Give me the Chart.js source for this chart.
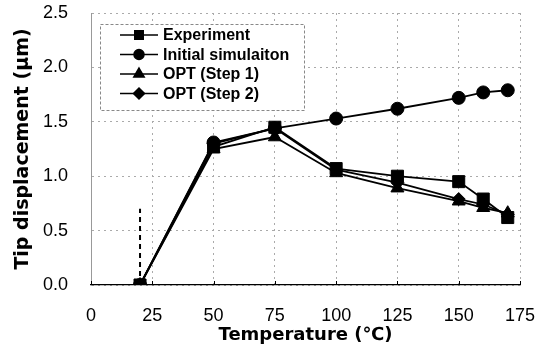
<!DOCTYPE html>
<html>
<head>
<meta charset="utf-8">
<script src="https://cdn.jsdelivr.net/npm/chart.js@4/dist/chart.umd.min.js"></script>
<style>
  html, body { margin: 0; padding: 0; background: #fff; }
  #wrap { width: 545px; height: 350px; }
</style>
</head>
<body>
<div id="wrap"><canvas id="chart" width="545" height="350"></canvas></div>
<script>
// temperatures (°C)
const temps = [20, 50, 75, 100, 125, 150, 160, 170];

// tip displacement (µm) per series
const experiment = [0, 1.27, 1.45, 1.07, 1.00, 0.95, 0.79, 0.62];
const initialSim = [0, 1.31, 1.44, 1.53, 1.62, 1.72, 1.77, 1.79];
const optStep1   = [0, 1.25, 1.36, 1.03, 0.89, 0.77, 0.71, 0.66];
const optStep2   = [0, 1.30, 1.44, 1.06, 0.94, 0.79, 0.74, 0.65];

// dashed marker at room temperature
const refLineX = [20, 20];
const refLineY = [0, 0.7];

const seriesLabels = ['Experiment', 'Initial simulaiton', 'OPT (Step 1)', 'OPT (Step 2)'];

const toXY = (xs, ys) => xs.map((x, i) => ({ x: x, y: ys[i] }));

const markerStyles = [
    { pointStyle: 'rect', radius: 8.5, legendRadius: 6 },
    { pointStyle: 'circle', radius: 6.5, legendRadius: 5 },
    { pointStyle: 'triangle', radius: 7.5, legendRadius: 6 },
    { pointStyle: 'rectRot', radius: 6.5, legendRadius: 5.5 }
];

const seriesData = [experiment, initialSim, optStep1, optStep2];

const datasets = seriesData.map((vals, i) => ({
    label: seriesLabels[i],
    data: toXY(temps, vals),
    borderColor: '#000',
    backgroundColor: '#000',
    borderWidth: 1.8,
    pointStyle: markerStyles[i].pointStyle,
    pointRadius: markerStyles[i].radius,
    pointBorderWidth: 1,
    pointBackgroundColor: '#000',
    pointBorderColor: '#000',
    tension: 0,
    fill: false
}));

datasets.push({
    label: '_ref',
    data: toXY(refLineX, refLineY),
    borderColor: '#000',
    borderWidth: 2,
    borderDash: [5, 4],
    pointRadius: 0,
    fill: false
});

// Legend box drawn on canvas, inside plot area top-left
const boxLegend = {
    id: 'boxLegend',
    afterDatasetsDraw(chart) {
        const { ctx, chartArea } = chart;
        const left = chartArea.left + 9, top = chartArea.top + 11;
        const w = 204, h = 86;
        ctx.save();
        ctx.fillStyle = '#fff';
        ctx.fillRect(left, top, w, h);
        ctx.strokeStyle = '#888';
        ctx.lineWidth = 1;
        ctx.setLineDash([3, 2]);
        ctx.strokeRect(left + 0.5, top + 0.5, w, h);
        ctx.setLineDash([]);
        ctx.font = 'bold 16px "Liberation Sans", Arial, sans-serif';
        ctx.textBaseline = 'middle';
        ctx.textAlign = 'left';
        seriesLabels.forEach((lbl, i) => {
            const y = top + 11 + i * 19.5;
            ctx.strokeStyle = '#000';
            ctx.lineWidth = 1.5;
            ctx.beginPath();
            ctx.moveTo(left + 20, y);
            ctx.lineTo(left + 58, y);
            ctx.stroke();
            ctx.fillStyle = '#000';
            Chart.helpers.drawPoint(ctx, {
                pointStyle: markerStyles[i].pointStyle,
                radius: markerStyles[i].legendRadius,
                rotation: 0,
                borderWidth: 1
            }, left + 39, y);
            ctx.fillStyle = '#000';
            ctx.fillText(lbl, left + 63, y + 1);
        });
        ctx.restore();
    }
};

// small inward tick marks on the x axis
const innerTicks = {
    id: 'innerTicks',
    afterDraw(chart) {
        const { ctx, chartArea, scales } = chart;
        ctx.save();
        ctx.strokeStyle = '#000';
        ctx.lineWidth = 1;
        scales.x.ticks.forEach(t => {
            const px = Math.round(scales.x.getPixelForValue(t.value)) + 0.5;
            ctx.beginPath();
            ctx.moveTo(px, chartArea.bottom);
            ctx.lineTo(px, chartArea.bottom - 4);
            ctx.stroke();
        });
        ctx.restore();
    }
};

new Chart(document.getElementById('chart').getContext('2d'), {
    type: 'line',
    data: { datasets: datasets },
    plugins: [boxLegend, innerTicks],
    options: {
        responsive: false,
        animation: false,
        layout: { padding: { top: 13, right: 25, left: 0, bottom: 0 } },
        plugins: {
            legend: { display: false },
            tooltip: { enabled: false }
        },
        scales: {
            x: {
                type: 'linear',
                min: 0,
                max: 175,
                afterFit: s => {
                    s.height = 65;
                    s.paddingLeft = 0;
                    s.paddingRight = 0;
                },
                ticks: {
                    stepSize: 25,
                    color: '#000',
                    padding: 20,
                    maxRotation: 0,
                    font: { family: '"Liberation Sans", Arial, sans-serif', size: 18 }
                },
                grid: { color: '#aaa', drawTicks: false, lineWidth: 1 },
                border: { color: '#000', width: 1.2, dash: [2, 4] },
                title: {
                    display: true,
                    text: 'Temperature (℃)',
                    color: '#000',
                    padding: { top: 0, bottom: 4 },
                    font: { family: '"DejaVu Sans", sans-serif', size: 18, weight: 'bold' }
                }
            },
            y: {
                min: 0,
                max: 2.5,
                afterFit: s => {
                    s.width = 91;
                    s.paddingTop = 0;
                    s.paddingBottom = 0;
                },
                ticks: {
                    stepSize: 0.5,
                    color: '#000',
                    padding: 23,
                    callback: v => v.toFixed(1),
                    font: { family: '"Liberation Sans", Arial, sans-serif', size: 18 }
                },
                grid: { color: '#aaa', drawTicks: false, lineWidth: 1 },
                border: { color: '#999', width: 1, dash: [2, 4] },
                title: {
                    display: true,
                    text: 'Tip displacement (μm)',
                    color: '#000',
                    padding: { top: 12, bottom: 0 },
                    font: { family: '"DejaVu Sans", sans-serif', size: 19, weight: 'bold' }
                }
            }
        }
    }
});
</script>
</body>
</html>
